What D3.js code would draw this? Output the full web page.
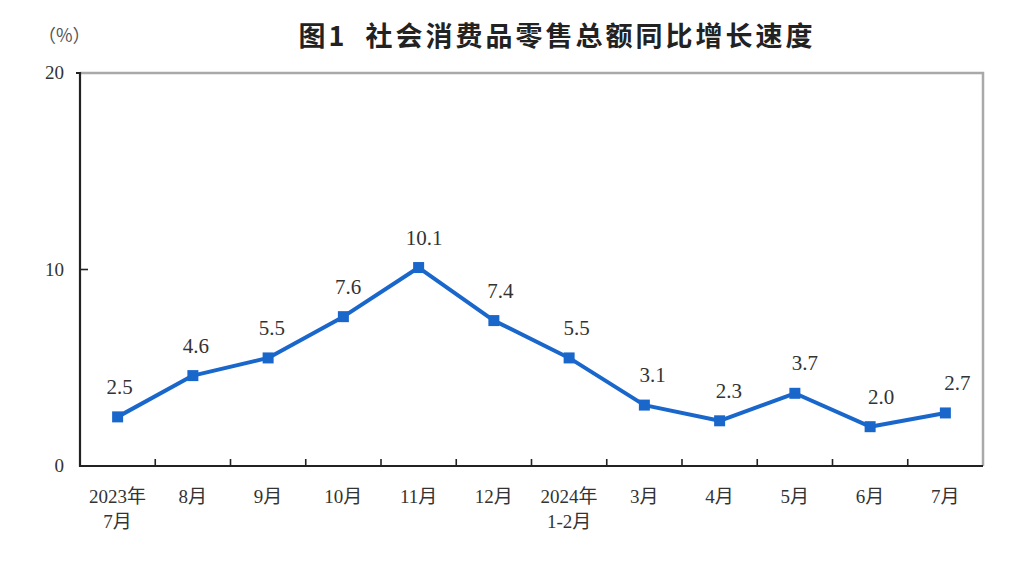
<!DOCTYPE html>
<html><head><meta charset="utf-8">
<script src="https://cdn.jsdelivr.net/npm/d3@7"></script>
<style>body{margin:0;background:#fff}svg{display:block}</style>
</head><body>
<svg id="c" width="1016" height="561"></svg>
<script>
const categories = ["2023年\n7月","8月","9月","10月","11月","12月","2024年\n1-2月","3月","4月","5月","6月","7月"];
const values = [2.5,4.6,5.5,7.6,10.1,7.4,5.5,3.1,2.3,3.7,2.0,2.7];
const yTicks = [0,10,20];
const title = "图1  社会消费品零售总额同比增长速度";
const unit = "（%）";

const svg = d3.select("#c");
const m = {l:80, r:983, t:73, b:466};
const x = d3.scaleBand().domain(d3.range(categories.length)).range([m.l, m.r]);
const y = d3.scaleLinear().domain([0,20]).range([m.b, m.t]);
const serif = "'Liberation Serif','Times New Roman','Noto Sans CJK SC',serif";
const blue = "#1a67cc";

// frame top/right gray
svg.append("path").attr("d",`M${m.l},${m.t}H${m.r}V${m.b}`).attr("fill","none").attr("stroke","#a9a9a9").attr("stroke-width",2.5);
// left & bottom axes dark
svg.append("path").attr("d",`M${m.l-4},${m.t}H${m.l}V${m.b}H${m.r}`).attr("fill","none").attr("stroke","#222").attr("stroke-width",2.2);

// x ticks (between bands, pointing up)
const xt = d3.range(1,categories.length).map(i=>x(i));
svg.selectAll(".xt").data(xt).join("line").attr("x1",d=>d).attr("x2",d=>d).attr("y1",m.b).attr("y2",m.b-7).attr("stroke","#222").attr("stroke-width",1.6);
// y ticks inner
svg.selectAll(".yt").data(yTicks.filter(d=>d>0&&d<20)).join("line").attr("x1",m.l).attr("x2",m.l+8).attr("y1",d=>y(d)).attr("y2",d=>y(d)).attr("stroke","#222").attr("stroke-width",1.6);
// y labels
svg.selectAll(".yl").data(yTicks).join("text").attr("x",m.l-16).attr("y",d=>y(d)+6).attr("text-anchor","end")
  .attr("font-family",serif).attr("font-size",19).attr("fill","#333").text(d=>d);

// x labels
const xl = svg.selectAll(".xl").data(categories).join("text")
  .attr("font-family",serif).attr("font-size",19).attr("fill","#333").attr("text-anchor","middle");
xl.each(function(d,i){
  const lines = d.split("\n");
  const t = d3.select(this);
  lines.forEach((s,j)=>t.append("tspan").attr("x",x(i)+x.bandwidth()/2).attr("y",m.b+37+j*25).text(s));
});

// line
const cx = i=>x(i)+x.bandwidth()/2;
svg.append("path").datum(values).attr("fill","none").attr("stroke",blue).attr("stroke-width",4).attr("stroke-linejoin","round")
  .attr("d",d3.line().x((d,i)=>cx(i)).y(d=>y(d)));
svg.selectAll(".pt").data(values).join("rect").attr("x",(d,i)=>cx(i)-5.5).attr("y",d=>y(d)-5.5).attr("width",11).attr("height",11).attr("fill",blue);

// value labels
svg.selectAll(".vl").data(values).join("text").attr("x",(d,i)=>cx(i)+2+i*0.9).attr("y",d=>y(d)-23)
  .attr("text-anchor","middle").attr("font-family",serif).attr("font-size",21).attr("fill","#333").text(d=>d.toFixed(1));

// title
svg.append("text").attr("x",557).attr("y",46).attr("text-anchor","middle").attr("font-family","'Noto Sans CJK SC',sans-serif")
  .attr("font-weight","bold").attr("font-size",27).attr("letter-spacing",3).attr("fill","#222").style("white-space","pre").text(title);
svg.append("text").attr("x",38).attr("y",42).attr("font-family","'Noto Sans CJK SC',serif").attr("font-size",18).attr("fill","#555").text(unit);
</script>
</body></html>
